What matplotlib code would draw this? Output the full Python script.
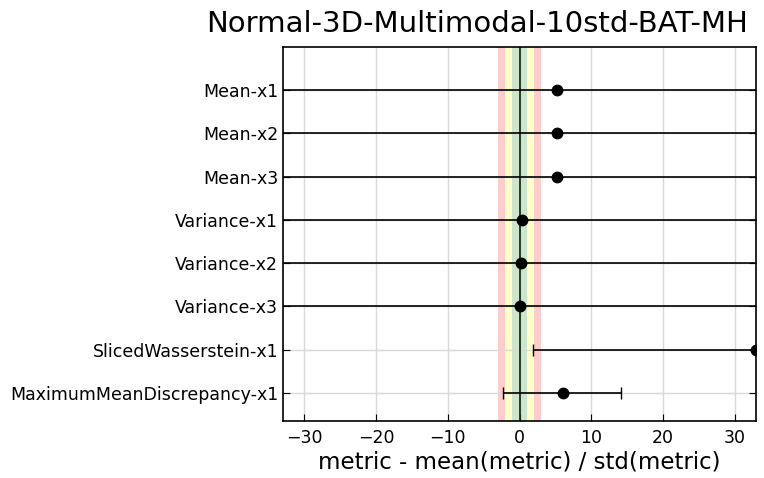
import numpy as np
import matplotlib
matplotlib.use('Agg')
from matplotlib import pyplot as plt

# metrics, top to bottom
labels = ['Mean-x1', 'Mean-x2', 'Mean-x3',
          'Variance-x1', 'Variance-x2', 'Variance-x3',
          'SlicedWasserstein-x1', 'MaximumMeanDiscrepancy-x1']
values = [5.3, 5.2, 5.2, 0.3, 0.2, 0.1, 33.0, 6.0]
lower = [-60.0, -60.0, -60.0, -60.0, -60.0, -60.0, 1.9, -2.3]
upper = [70.0, 70.0, 70.0, 70.0, 70.0, 70.0, 70.0, 14.1]

values = np.array(values)
lower = np.array(lower)
upper = np.array(upper)
ypos = np.arange(len(labels), 0, -1)

fig = plt.figure(figsize=(7.64, 4.78), dpi=100)
ax = fig.add_axes([283/764, 1 - 421/478, (756-283)/764, (421-47)/478])

# sigma bands
ax.axvspan(-3, 3, color='#ffcccc', lw=0, zorder=0)
ax.axvspan(-2, 2, color='#ffffcc', lw=0, zorder=0)
ax.axvspan(-1, 1, color='#cce5cc', lw=0, zorder=0)
ax.axvline(0, color='#153015', lw=1.3, zorder=1)

ax.errorbar(values, ypos, xerr=[values - lower, upper - values],
            fmt='o', color='black', ms=7.5, capsize=4, elinewidth=1.2,
            capthick=1, zorder=3, clip_on=True)

ax.set_xlim(-33, 33)
ax.set_ylim(0.35, 9)
ax.set_xticks([-30, -20, -10, 0, 10, 20, 30])
ax.set_xticklabels(['\u221230', '\u221220', '\u221210', '0', '10', '20', '30'])
ax.set_yticks(ypos)
ax.set_yticklabels(labels)
ax.grid(True, color='0.85', lw=1, zorder=0)
ax.set_axisbelow(True)
ax.tick_params(direction='in', length=5, labelsize=12.5, right=True, top=False)
ax.tick_params(axis='x', pad=6)
for s in ax.spines.values():
    s.set_linewidth(1.2)

ax.set_xlabel('metric - mean(metric) / std(metric)', fontsize=16.5, labelpad=2)
fig.text(748/764, 1 - 24/478, 'Normal-3D-Multimodal-10std-BAT-MH',
         fontsize=21, ha='right', va='center')

plt.savefig('out.png', dpi=100)
